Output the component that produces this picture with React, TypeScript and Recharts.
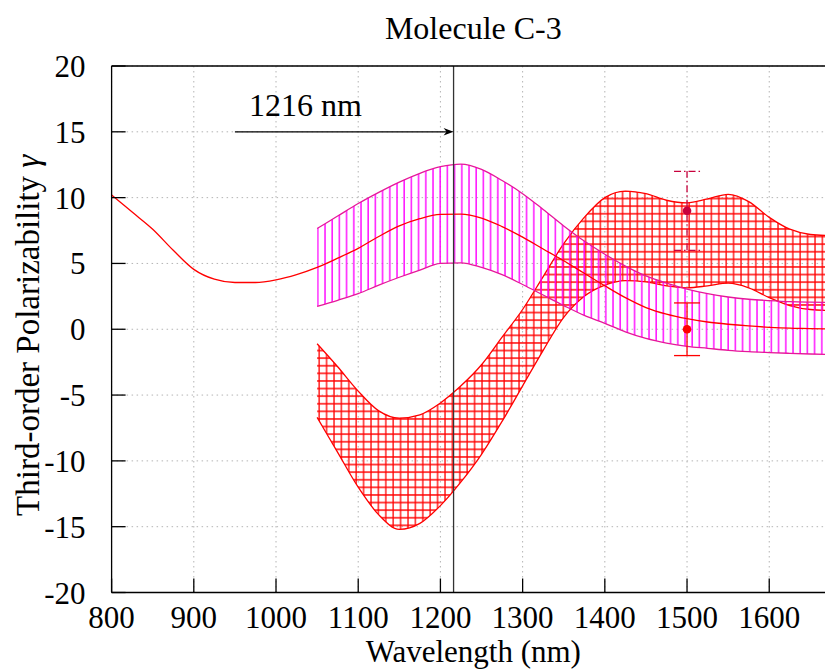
import {
  ComposedChart,
  Area,
  Line,
  Scatter,
  ErrorBar,
  XAxis,
  YAxis,
  CartesianGrid,
  ReferenceLine,
} from "recharts";

// central curve (red), full range
const LINE_WL = [
  800, 825, 850, 875, 900, 925, 950, 975, 1000, 1025, 1050, 1075, 1100, 1125, 1150, 1175, 1200, 1225,
  1250, 1275, 1300, 1325, 1350, 1375, 1400, 1425, 1450, 1475, 1500, 1525, 1550, 1575, 1600, 1625, 1650,
  1680,
];
const CENTER = [
  10.2, 8.9, 7.6, 6.0, 4.55, 3.8, 3.55, 3.55, 3.75, 4.15, 4.7, 5.4, 6.15, 7.05, 7.85, 8.4, 8.72, 8.75,
  8.45, 7.8, 7.0, 6.1, 5.2, 4.25, 3.3, 2.4, 1.65, 1.15, 0.8, 0.55, 0.38, 0.25, 0.15, 0.08, 0.05, 0.0,
];

// bands
const BAND_WL = [
  1050, 1075, 1100, 1125, 1150, 1175, 1200, 1225, 1250, 1275, 1300, 1325, 1350, 1375, 1400, 1425, 1450,
  1475, 1500, 1525, 1550, 1575, 1600, 1625, 1650, 1680,
];
const MAG_HIGH = [
  7.65, 8.6, 9.55, 10.4, 11.18, 11.85, 12.35, 12.55, 12.15, 11.3, 10.3, 9.1, 7.85, 6.7, 5.7, 4.8, 4.05,
  3.5, 3.05, 2.7, 2.45, 2.28, 2.18, 2.1, 2.06, 2.03,
];
const MAG_LOW = [
  1.74, 2.2, 2.7, 3.35, 3.95, 4.5, 5.0, 5.05, 4.7, 4.15, 3.4, 2.6, 1.8, 1.05, 0.45, -0.2, -0.7, -1.05,
  -1.3, -1.45, -1.6, -1.7, -1.77, -1.83, -1.88, -1.92,
];
const RED_HIGH = [
  -1.1, -2.85, -4.7, -6.2, -6.75, -6.5, -5.6, -4.3, -2.7, -0.6, 1.5, 4.0, 6.5, 8.5, 10.0, 10.5, 10.3,
  9.8, 9.6, 9.9, 10.25, 9.7, 8.5, 7.6, 7.2, 7.1,
];
const RED_LOW = [
  -6.7, -9.35, -12.0, -14.1, -15.2, -14.75, -13.4, -11.6, -9.5, -7.0, -4.3, -1.6, 0.9, 2.5, 3.35, 3.7,
  3.6, 3.3, 3.15, 3.3, 3.5, 3.15, 2.4, 1.8, 1.5, 1.42,
];

// measured points
const MEAS_WL = [1500];
const MEAS_HIGH = [9];
const MEAS_HIGH_ERR = [3];
const MEAS_LOW = [0];
const MEAS_LOW_ERR = [2];

const X_TICKS = [800, 900, 1000, 1100, 1200, 1300, 1400, 1500, 1600];
const Y_TICKS = [-20, -15, -10, -5, 0, 5, 10, 15, 20];
const MARK_WL = 1216;
const ARROW_FROM = 950;
const ARROW_Y = 15;

const FONT = '"Liberation Serif", "DejaVu Serif", serif';
const MAGENTA = "#ff00ff";
const MAGENTA_EDGE = "#e6189a";
const RED = "#ff0000";
const CRIMSON = "#c8003c";

const lineData = LINE_WL.map((x, i) => ({ x, y: CENTER[i] }));
const bandData = BAND_WL.map((x, i) => ({
  x,
  mag: [MAG_LOW[i], MAG_HIGH[i]],
  red: [RED_LOW[i], RED_HIGH[i]],
}));
const highPts = MEAS_WL.map((x, i) => ({ x, y: MEAS_HIGH[i], err: MEAS_HIGH_ERR[i] }));
const lowPts = MEAS_WL.map((x, i) => ({ x, y: MEAS_LOW[i], err: MEAS_LOW_ERR[i] }));

const tickStyle = { fontFamily: FONT, fontSize: 31, fill: "#000" };

function SerifText(props: any) {
  const { children, ...rest } = props;
  return (
    <text fontFamily={FONT} fontSize={32} fill="#000" {...rest}>
      {children}
    </text>
  );
}

function ArrowShape(props: any) {
  const { x1, y1, x2, y2 } = props;
  return (
    <g>
      <line x1={x1} y1={y1} x2={x2 - 6} y2={y2} stroke="#000" strokeWidth={1.2} />
      <path
        d={`M${x2},${y2} L${x2 - 10},${y2 - 3.8} L${x2 - 7},${y2} L${x2 - 10},${y2 + 3.8} Z`}
        fill="#000"
      />
      <SerifText x={x1 + 14} y={y1 - 16.3}>
        {`${MARK_WL} nm`}
      </SerifText>
    </g>
  );
}

const dot = (color: string) => (p: any) => <circle cx={p.cx} cy={p.cy} r={4.3} fill={color} />;

// plot box: left 111.6, top 66, right 835, bottom 592.5
export default function App() {
  return (
    <div
      style={{
        position: "fixed",
        left: 0,
        top: 0,
        width: 825,
        height: 669,
        overflow: "hidden",
        background: "#fff",
        fontFamily: FONT,
      }}
    >
      <ComposedChart width={845} height={669} margin={{ top: 36, right: 0, bottom: 46.5, left: 51.6 }}>
        <defs>
          <pattern id="vhatch" patternUnits="userSpaceOnUse" width="7.2" height="10">
            <line x1="1" y1="0" x2="1" y2="10" stroke={MAGENTA} strokeWidth="1.4" />
          </pattern>
          <pattern id="cross" patternUnits="userSpaceOnUse" width="7.4" height="7.6">
            <path d="M1,0 V7.6 M0,1 H7.4" stroke={RED} strokeWidth="1.3" />
          </pattern>
        </defs>
        <CartesianGrid strokeDasharray="1.5 3.5" stroke="#b4b4b4" strokeWidth={1} />
        <XAxis
          dataKey="x"
          type="number"
          domain={[800, 1680]}
          ticks={X_TICKS}
          allowDataOverflow
          height={30}
          tickSize={-14}
          tickMargin={27}
          tick={tickStyle}
          stroke="#000"
          strokeWidth={1.3}
          label={{
            content: (p: any) => {
              const vb = p.viewBox || { x: 111.6, y: 592.5, width: 723.4 };
              return (
                <SerifText x={vb.x + vb.width / 2} y={vb.y + 69.5} textAnchor="middle" fontSize={31}>
                  Wavelength (nm)
                </SerifText>
              );
            },
          }}
        />
        <XAxis
          xAxisId="top"
          orientation="top"
          dataKey="x"
          type="number"
          domain={[800, 1680]}
          ticks={X_TICKS}
          allowDataOverflow
          height={30}
          tickSize={-14}
          tick={false}
          stroke="#000"
          strokeWidth={1.3}
          label={{
            content: (p: any) => {
              const vb = p.viewBox || { x: 111.6, y: 36, width: 723.4, height: 30 };
              return (
                <SerifText x={vb.x + vb.width / 2} y={vb.y + vb.height - 27} textAnchor="middle">
                  Molecule C-3
                </SerifText>
              );
            },
          }}
        />
        <YAxis
          type="number"
          domain={[-20, 20]}
          ticks={Y_TICKS}
          allowDataOverflow
          width={60}
          tickSize={-14}
          tickMargin={40}
          tick={tickStyle}
          stroke="#000"
          strokeWidth={1.3}
          label={{
            content: (p: any) => {
              const vb = p.viewBox || { x: 51.6, y: 66, width: 60, height: 526.5 };
              const cx = vb.x + vb.width - 73.1;
              const cy = vb.y + vb.height / 2 + 6;
              return (
                <SerifText
                  x={cx}
                  y={cy}
                  textAnchor="middle"
                  fontSize={33}
                  transform={`rotate(-90, ${cx}, ${cy})`}
                >
                  Third-order Polarizability <tspan fontStyle="italic">γ</tspan>
                </SerifText>
              );
            },
          }}
        />
        <YAxis
          yAxisId="right"
          orientation="right"
          type="number"
          domain={[-20, 20]}
          ticks={Y_TICKS}
          allowDataOverflow
          width={10}
          tickSize={-14}
          tick={false}
          stroke="#000"
          strokeWidth={1.3}
        />
        <Area
          data={bandData}
          dataKey="red"
          type="monotone"
          stroke={RED}
          strokeWidth={1.3}
          fill="url(#cross)"
          fillOpacity={1}
          dot={false}
          activeDot={false}
          isAnimationActive={false}
        />
        <Area
          data={bandData}
          dataKey="mag"
          type="monotone"
          stroke={MAGENTA_EDGE}
          strokeWidth={1.3}
          fill="url(#vhatch)"
          fillOpacity={1}
          dot={false}
          activeDot={false}
          isAnimationActive={false}
        />
        <Line
          data={lineData}
          dataKey="y"
          type="monotone"
          stroke={RED}
          strokeWidth={1.3}
          dot={false}
          activeDot={false}
          isAnimationActive={false}
        />
        <ReferenceLine x={MARK_WL} stroke="#333" strokeWidth={1.3} />
        <ReferenceLine
          segment={[
            { x: ARROW_FROM, y: ARROW_Y },
            { x: MARK_WL, y: ARROW_Y },
          ]}
          shape={ArrowShape}
        />
        <Scatter data={highPts} dataKey="y" fill={CRIMSON} shape={dot(CRIMSON)} isAnimationActive={false}>
          <ErrorBar
            dataKey="err"
            direction="y"
            width={13}
            stroke={CRIMSON}
            strokeWidth={1.3}
            strokeDasharray="7 3 1.5 3"
          />
        </Scatter>
        <Scatter data={lowPts} dataKey="y" fill={RED} shape={dot(RED)} isAnimationActive={false}>
          <ErrorBar dataKey="err" direction="y" width={13} stroke={RED} strokeWidth={1.3} />
        </Scatter>
      </ComposedChart>
    </div>
  );
}
